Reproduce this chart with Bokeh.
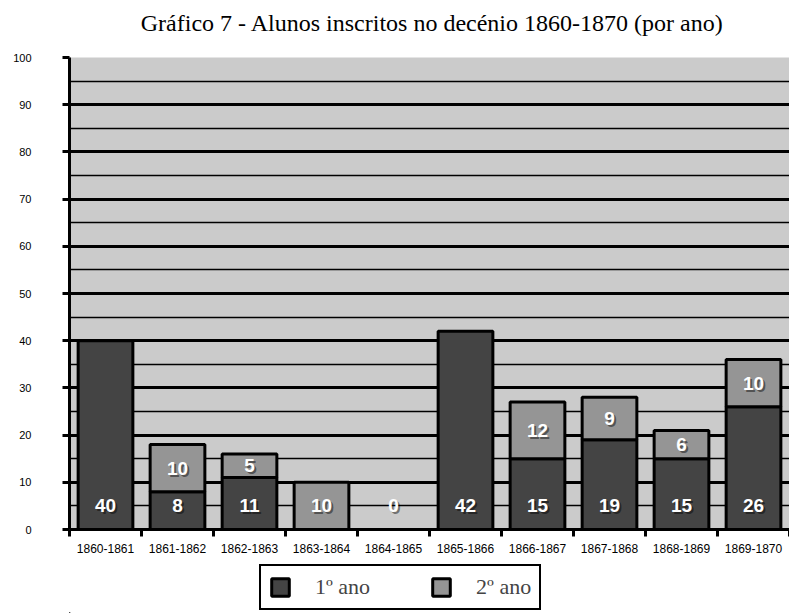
from bokeh.plotting import figure
from bokeh.layouts import column
from bokeh.models import Range1d, FixedTicker, Legend, LegendItem, ColumnDataSource
from bokeh.core.properties import value
from bokeh.embed import file_html
from bokeh.resources import INLINE

periods = ["1860-1861", "1861-1862", "1862-1863", "1863-1864", "1864-1865",
           "1865-1866", "1866-1867", "1867-1868", "1868-1869", "1869-1870"]
ano1 = [40, 8, 11, 0, 0, 42, 15, 19, 15, 26]
ano2 = [0, 10, 5, 10, 0, 0, 12, 9, 6, 10]
y_ticks = list(range(0, 101, 10))
y_minor = list(range(5, 100, 10))
series_names = ["1º ano", "2º ano"]
title_text = "Gráfico 7 - Alunos inscritos no decénio 1860-1870 (por ano)"

DARK = "#444444"
LIGHT = "#959595"
BG = "#cbcbcb"

n = len(periods)
xs = list(range(n))


def strip(height):
    f = figure(width=789, height=height, x_range=Range1d(0, 1), y_range=Range1d(0, 1),
               output_backend="svg", toolbar_location=None,
               x_axis_location=None, y_axis_location=None,
               min_border_left=0, min_border_right=0, min_border_top=0, min_border_bottom=0)
    f.grid.visible = False
    f.outline_line_color = None
    f.background_fill_color = "white"
    return f


# title strip
t = strip(45)
t.text(x=[0.504], y=[0.5], text=[title_text], text_font=value("Liberation Serif"),
       text_font_size="24px", text_align="center", text_baseline="middle",
       text_color="black")

p = figure(width=789, height=516, x_range=Range1d(-0.5, n - 0.5), y_range=Range1d(0, 100),
           output_backend="svg", toolbar_location=None,
           min_border_left=69, min_border_right=0, min_border_top=12, min_border_bottom=32)
p.background_fill_color = BG
p.border_fill_color = "white"
p.outline_line_color = None

# grid
p.xgrid.visible = False
p.ygrid.grid_line_color = "black"
p.ygrid.grid_line_width = 2.8
p.ygrid.minor_grid_line_color = "black"
p.ygrid.minor_grid_line_width = 1.4

# y axis
p.yaxis.ticker = FixedTicker(ticks=y_ticks, minor_ticks=y_minor)
p.yaxis.axis_line_width = 3
p.yaxis.major_tick_line_width = 3
p.yaxis.major_tick_out = 7
p.yaxis.major_tick_in = 0
p.yaxis.minor_tick_line_color = None
p.yaxis.major_label_standoff = 31
p.yaxis.major_label_text_font = "Liberation Sans"
p.yaxis.major_label_text_font_size = "11px"
p.yaxis.major_label_text_color = "black"

# x axis
p.xaxis.ticker = FixedTicker(ticks=xs, minor_ticks=[i - 0.5 for i in range(n + 1)])
p.xaxis.major_label_overrides = {i: periods[i] for i in xs}
p.xaxis.axis_line_width = 3
p.xaxis.major_tick_line_color = None
p.xaxis.minor_tick_line_width = 3
p.xaxis.minor_tick_out = 7
p.xaxis.minor_tick_in = 0
p.xaxis.major_label_standoff = 7
p.xaxis.major_label_text_font = "Liberation Sans"
p.xaxis.major_label_text_font_size = "12px"
p.xaxis.major_label_text_color = "black"

# bars
tops2 = [a + b for a, b in zip(ano1, ano2)]
src1 = ColumnDataSource(dict(x=[xs[i] for i in range(n) if ano1[i] > 0],
                             top=[ano1[i] for i in range(n) if ano1[i] > 0]))
src2 = ColumnDataSource(dict(x=[xs[i] for i in range(n) if ano2[i] > 0],
                             bottom=[ano1[i] for i in range(n) if ano2[i] > 0],
                             top=[tops2[i] for i in range(n) if ano2[i] > 0]))
bar_style1 = dict(fill_color=DARK, line_color="black", line_width=3)
bar_style2 = dict(fill_color=LIGHT, line_color="black", line_width=3)
p.vbar(x="x", top="top", bottom=0, width=0.76, source=src1, **bar_style1)
p.vbar(x="x", top="top", bottom="bottom", width=0.76, source=src2, **bar_style2)

# labels: first-year values near the bar foot, second-year values mid-segment
lx, ly, lt = [], [], []
for i in range(n):
    if ano1[i] > 0 or ano2[i] == 0:
        lx.append(xs[i]); ly.append(5); lt.append(str(ano1[i]))
    if ano2[i] > 0:
        lx.append(xs[i]); ly.append(ano1[i] + ano2[i] / 2); lt.append(str(ano2[i]))
lsrc = ColumnDataSource(dict(x=lx, y=ly, t=lt))
common = dict(x="x", y="y", text="t", source=lsrc, text_font=value("Liberation Sans"),
              text_font_style="bold", text_font_size="19px", text_align="center",
              text_baseline="middle")
p.text(text_color="black", text_alpha=0.45, x_offset=2, y_offset=2, **common)
p.text(text_color="white", **common)

# legend strip below the chart (legend swatches only; their bars lie off-range)
q = strip(52)
d1 = q.vbar(x=[-5], top=[-5], bottom=[-6], width=0.1, **bar_style1)
d2 = q.vbar(x=[-5], top=[-5], bottom=[-6], width=0.1, **bar_style2)
legend = Legend(items=[LegendItem(label=series_names[0], renderers=[d1]),
                       LegendItem(label=series_names[1], renderers=[d2])],
                orientation="horizontal", location=(190, 3), margin=0,
                label_text_font="Liberation Serif", label_text_font_size="22px",
                glyph_width=22, glyph_height=22, label_standoff=24, spacing=60,
                padding=8, border_line_color="black", border_line_width=2,
                border_line_alpha=1,
                background_fill_color="white", background_fill_alpha=1)
q.add_layout(legend, "center")

layout = column(t, p, q, spacing=0)
open("out.html", "w").write(file_html(layout, INLINE))
